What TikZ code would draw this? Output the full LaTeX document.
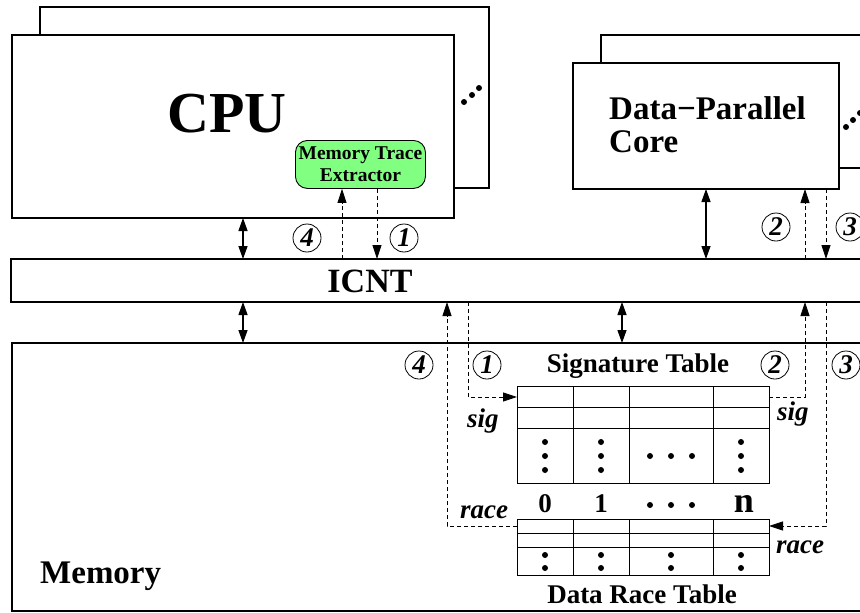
\documentclass[tikz,border=0pt]{standalone}
\usepackage{fontspec}
\setmainfont{Liberation Serif}
\usetikzlibrary{arrows.meta}

\begin{document}
\begin{tikzpicture}[x=1pt,y=-1pt,
  box/.style={draw, line width=1.5pt, fill=white, rectangle, inner sep=0pt, outer sep=0pt, anchor=north west},
  tablebox/.style={draw, line width=0.9pt, rectangle, inner sep=0pt, outer sep=0pt, anchor=north west},
  tline/.style={line width=0.9pt},
  bus/.style={line width=1.3pt, {Triangle[length=13pt,width=9pt]}-{Triangle[length=13pt,width=9pt]}},
  flow/.style={line width=0.8pt, dash pattern=on 4pt off 3pt, -{Triangle[length=14pt,width=9pt]}},
  stepnum/.style={circle, draw, line width=0.8pt, minimum size=28pt, inner sep=0pt,
    font=\fontsize{27}{27}\selectfont\bfseries\itshape},
  lbl/.style={inner sep=0pt, font=\fontsize{27}{27}\selectfont\bfseries},
  ilbl/.style={inner sep=0pt, anchor=base west, font=\fontsize{27}{27}\selectfont\bfseries\itshape},
  dotr/.style={fill=black}
]
\useasboundingbox (0,0) rectangle (860,613);
\clip (0,0) rectangle (860,613);

% CPU cluster
\node[box, minimum width=449pt, minimum height=181pt] (cpuback) at (40,7) {};
\node[box, minimum width=442pt, minimum height=183pt] (cpu) at (12,35) {};
\node[inner sep=0pt, font=\fontsize{58}{58}\selectfont\bfseries] (cpulabel) at (227,114) {CPU};
\node[draw, line width=0.9pt, fill={rgb,255:red,128;green,255;blue,128}, rounded corners=12pt,
  anchor=north west, minimum width=130pt, minimum height=48pt, inner sep=0pt, align=center,
  font=\fontsize{19.5}{22}\selectfont\bfseries] (extr) at (295,140) {Memory Trace\\Extractor};
\fill[dotr] (464,102) circle (3pt) (472,95) circle (3pt) (479,88) circle (3pt);

% Data-parallel cluster
\node[box, minimum width=320pt, minimum height=133pt] (dpback) at (601,35) {};
\node[box, minimum width=266pt, minimum height=126pt] (dp) at (573,63) {};
\node[inner sep=0pt, anchor=west, align=left, font=\fontsize{33}{33}\selectfont\bfseries] (dplabel) at (609,125) {Data−Parallel\\Core};
\fill[dotr] (846,127) circle (3pt) (853,120) circle (3pt) (860,113) circle (3pt);

% Interconnect and memory
\node[box, minimum width=900pt, minimum height=43pt] (icnt) at (11,259) {};
\node[inner sep=0pt, font=\fontsize{34}{34}\selectfont\bfseries] (icntlabel) at (370,281.5) {ICNT};
\node[box, minimum width=900pt, minimum height=268pt] (mem) at (12,343) {};
\node[inner sep=0pt, anchor=base west, font=\fontsize{33}{33}\selectfont\bfseries] (memlabel) at (40,583) {Memory};

% Signature table
\node[tablebox, minimum width=252pt, minimum height=97pt] (sigtab) at (517,386) {};
\draw[tline] (517,407) -- (769,407) (517,428) -- (769,428)
  (573,386) -- (573,483) (629,386) -- (629,483) (713,386) -- (713,483);
\foreach \x in {545,601,741} \fill[dotr] (\x,442) circle (3pt) (\x,456) circle (3pt) (\x,470) circle (3pt);
\fill[dotr] (650,456) circle (3pt) (671,456) circle (3pt) (692,456) circle (3pt);
\node[lbl, anchor=base] (sigtitle) at (638,372) {Signature Table};

% Column indices
\node[lbl, anchor=base] (c0) at (545,512) {0};
\node[lbl, anchor=base] (c1) at (601,512) {1};
\node[inner sep=0pt, anchor=base, font=\fontsize{36}{36}\selectfont\bfseries] (cn) at (744,512) {n};
\fill[dotr] (650,505) circle (3pt) (671,505) circle (3pt) (692,505) circle (3pt);

% Data race table
\node[tablebox, minimum width=252pt, minimum height=56pt] (racetab) at (517,519) {};
\draw[tline] (517,533) -- (769,533) (517,547) -- (769,547)
  (573,519) -- (573,575) (629,519) -- (629,575) (713,519) -- (713,575);
\foreach \x in {545,601,671,741} \fill[dotr] (\x,555) circle (3pt) (\x,568) circle (3pt);
\node[lbl, anchor=base] (racetitle) at (642,603) {Data Race Table};

% Field labels
\node[ilbl] (sigl) at (467,427) {sig};
\node[ilbl] (sigr) at (777,420) {sig};
\node[ilbl] (racel) at (460,518) {race};
\node[ilbl] (racer) at (776,553) {race};

% Connector columns and rows
\coordinate (xl) at (243,0);
\coordinate (xm) at (622,0);
\coordinate (xd) at (706,0);
\coordinate (xe4) at (342,0);
\coordinate (xe1) at (377,0);
\coordinate (xp2) at (805,0);
\coordinate (xp3) at (826,0);
\coordinate (xs1) at (468,0);
\coordinate (xr4) at (447,0);
\coordinate (ysig) at (0,397);
\coordinate (yrace) at (0,526);

% Data buses
\draw[bus] (cpu.south -| xl) -- (icnt.north -| xl);
\draw[bus] (dp.south -| xd) -- (icnt.north -| xd);
\draw[bus] (icnt.south -| xl) -- (mem.north -| xl);
\draw[bus] (icnt.south -| xm) -- (mem.north -| xm);

% Signature and race traffic
\draw[flow] (icnt.north -| xe4) -- (extr.south -| xe4);
\draw[flow] (extr.south -| xe1) -- (icnt.north -| xe1);
\draw[flow] (icnt.north -| xp2) -- (dp.south -| xp2);
\draw[flow] (dp.south -| xp3) -- (icnt.north -| xp3);
\draw[flow] (icnt.south -| xs1) |- (sigtab.west |- ysig);
\draw[flow] (sigtab.east |- ysig) -| (icnt.south -| xp2);
\draw[flow] (icnt.south -| xp3) |- (racetab.east |- yrace);
\draw[flow] (racetab.west |- yrace) -| (icnt.south -| xr4);

% Step numbers
\node[stepnum] (s4a) at (307,238) {4};
\node[stepnum] (s1a) at (404,238) {1};
\node[stepnum] (s2a) at (776,227) {2};
\node[stepnum] (s3a) at (850,227) {3};
\node[stepnum] (s4b) at (419,365) {4};
\node[stepnum] (s1b) at (487,365) {1};
\node[stepnum] (s2b) at (775,365) {2};
\node[stepnum] (s3b) at (846,365) {3};
\end{tikzpicture}
\end{document}
